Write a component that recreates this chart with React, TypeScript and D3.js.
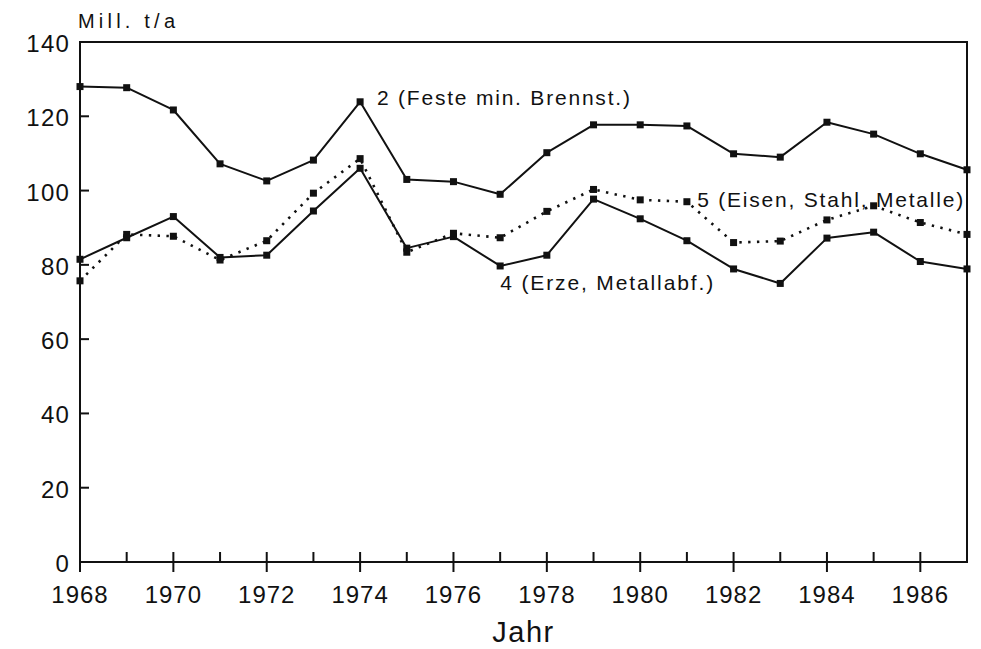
import React from "react";
import * as d3 from "d3";

const years = [1968, 1969, 1970, 1971, 1972, 1973, 1974, 1975, 1976, 1977, 1978, 1979, 1980, 1981, 1982, 1983, 1984, 1985, 1986, 1987];
const festeBrennst = [128.0, 127.7, 121.7, 107.2, 102.6, 108.2, 123.9, 103.0, 102.4, 99.0, 110.2, 117.7, 117.7, 117.4, 109.9, 109.0, 118.4, 115.2, 109.9, 105.6];
const erzeMetallabf = [81.5, 87.3, 93.0, 82.0, 82.6, 94.5, 106.0, 84.5, 87.6, 79.7, 82.6, 97.7, 92.4, 86.5, 78.9, 75.0, 87.2, 88.8, 80.9, 78.9];
const eisenStahl = [75.7, 88.2, 87.7, 81.3, 86.5, 99.3, 108.6, 83.4, 88.5, 87.3, 94.4, 100.3, 97.5, 97.0, 86.0, 86.4, 92.1, 95.9, 91.4, 88.2];
const yTicks = [0, 20, 40, 60, 80, 100, 120, 140];
const xLabelYears = [1968, 1970, 1972, 1974, 1976, 1978, 1980, 1982, 1984, 1986];

const labels = [
  { text: "2 (Feste min. Brennst.)", year: 1974.36, value: 123.0, len: 253 },
  { text: "5 (Eisen, Stahl, Metalle)", year: 1981.22, value: 95.6, len: 266 },
  { text: "4 (Erze, Metallabf.)", year: 1977.0, value: 73.2, len: 213 },
];

const FONT = "'Liberation Sans', Arial, Helvetica, sans-serif";

export default function App() {
  const W = 981, H = 649;
  const left = 80, right = 967, top = 42, bottom = 562;
  const x = d3.scaleLinear().domain([1968, 1987]).range([left, right]);
  const y = d3.scaleLinear().domain([0, 140]).range([bottom, top]);
  const line = d3.line<number>().x((_, i) => x(years[i])).y((d) => y(d));

  const series = [
    { data: festeBrennst, dotted: false },
    { data: erzeMetallabf, dotted: false },
    { data: eisenStahl, dotted: true },
  ];
  const ms = 7;

  return (
    <svg width={W} height={H} style={{ position: "absolute", left: 0, top: 0, background: "#fff" }} fontFamily={FONT}>
      <rect x={0} y={0} width={W} height={H} fill="#fff" />
      <rect x={left} y={top} width={right - left} height={bottom - top} fill="none" stroke="#111" strokeWidth={2} />
      {yTicks.map((t) => (
        <g key={"y" + t}>
          {t > 0 && t < 140 && <line x1={left} x2={left + 9} y1={y(t)} y2={y(t)} stroke="#111" strokeWidth={2} />}
          <text x={70} y={y(t) + 10} textAnchor="end" fontSize={24} letterSpacing={1.2} fill="#111">{t}</text>
        </g>
      ))}
      {years.map((yr) => (
        <line key={"xt" + yr} x1={x(yr)} x2={x(yr)} y1={bottom - 10} y2={yr % 2 === 0 ? bottom + 10 : bottom} stroke="#111" strokeWidth={2} />
      ))}
      {xLabelYears.map((yr) => (
        <text key={"xl" + yr} x={x(yr)} y={603} textAnchor="middle" fontSize={24} letterSpacing={1} fill="#111">{yr}</text>
      ))}
      <text x={(left + right) / 2} y={642} textAnchor="middle" fontSize={29} letterSpacing={1.5} fill="#111">Jahr</text>
      <text x={78} y={28} fontSize={20} textLength={97} lengthAdjust="spacing" fill="#111">Mill. t/a</text>

      {series.map((s, si) => (
        <g key={"s" + si}>
          <path
            d={line(s.data) || ""}
            fill="none"
            stroke="#111"
            strokeWidth={s.dotted ? 2.6 : 2}
            strokeDasharray={s.dotted ? "2.4 6.4" : undefined}
            strokeLinejoin="round"
          />
          {s.data.map((v, i) => (
            <rect key={i} x={x(years[i]) - ms / 2} y={y(v) - ms / 2} width={ms} height={ms} fill="#111" />
          ))}
        </g>
      ))}

      {labels.map((l) => (
        <text key={l.text} x={x(l.year)} y={y(l.value)} fontSize={21} textLength={l.len} lengthAdjust="spacing" fill="#111">{l.text}</text>
      ))}
    </svg>
  );
}
